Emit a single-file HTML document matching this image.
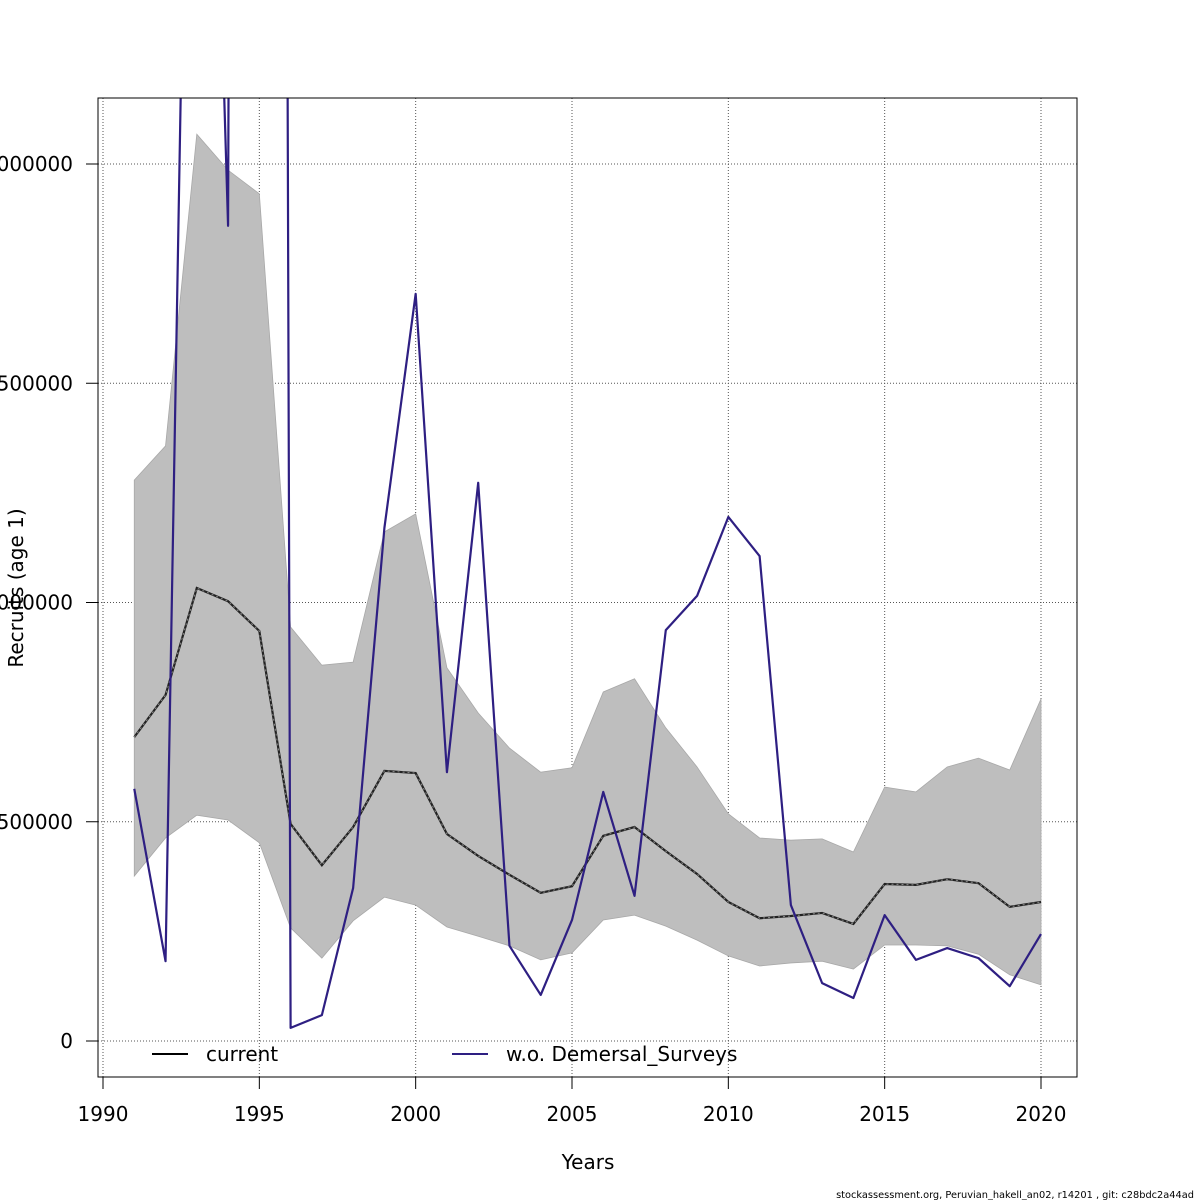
<!DOCTYPE html>
<html><head><meta charset="utf-8"><style>
html,body{margin:0;padding:0;background:#fff;}
svg{display:block;font-family:"DejaVu Sans","Liberation Sans",sans-serif;}
</style></head><body>
<svg id="chart" width="1200" height="1200" viewBox="0 0 1200 1200" xmlns="http://www.w3.org/2000/svg">
<defs><clipPath id="pc"><rect x="98" y="98" width="979" height="979"/></clipPath></defs>
<g id="grid"></g>
<g id="marks" clip-path="url(#pc)"></g>
<rect x="98" y="98" width="979" height="979" fill="none" stroke="#000" stroke-width="1"/>
<g id="axes"></g>
<text x="588" y="1169" font-size="20" text-anchor="middle">Years</text>
<text transform="translate(23,588) rotate(-90)" font-size="20" text-anchor="middle">Recruits (age 1)</text>
<g>
<line x1="152" y1="1054" x2="188" y2="1054" stroke="#000" stroke-width="2"/>
<text x="206" y="1061" font-size="20">current</text>
<line x1="452" y1="1054" x2="488" y2="1054" stroke="#2e1f82" stroke-width="2"/>
<text x="506" y="1061" font-size="20">w.o. Demersal_Surveys</text>
</g>
<text x="1194" y="1198" font-size="9.8" text-anchor="end">stockassessment.org, Peruvian_hakell_an02, r14201 , git: c28bdc2a44ad</text>
</svg>
<script>
const years=[1991,1992,1993,1994,1995,1996,1997,1998,1999,2000,2001,2002,2003,2004,2005,2006,2007,2008,2009,2010,2011,2012,2013,2014,2015,2016,2017,2018,2019,2020];
const current=[693000,789000,1033000,1003000,935000,495000,401000,488000,616000,611000,472000,422000,379000,338000,353000,468000,488000,433000,381000,317000,280000,285000,292000,267000,358000,356000,369000,360000,306000,317000];
const upper=[1279000,1357000,2068000,1986000,1932000,944000,857000,864000,1161000,1202000,851000,748000,668000,613000,623000,796000,826000,714000,625000,518000,463000,458000,461000,431000,579000,568000,625000,645000,618000,780000];
const lower=[376000,463000,515000,504000,452000,258000,189000,274000,328000,310000,260000,239000,217000,185000,201000,276000,287000,262000,230000,194000,171000,178000,182000,164000,219000,219000,217000,198000,151000,128000];
const woDemersal=[575000,182000,4250000,1859000,22500000,30000,59000,349000,1170000,1704000,613000,1273000,217000,105000,276000,568000,331000,937000,1015000,1195000,1106000,310000,132000,98000,287000,185000,212000,189000,125000,244000];
const xTicks=[1990,1995,2000,2005,2010,2015,2020];
const yTicks=[0,500000,1000000,1500000,2000000];
const yTickLabels=["0","500000","1000000","1500000","2000000"];

const NS="http://www.w3.org/2000/svg";
function X(v){return 103+(v-1990)*(1041-103)/30;}
function Y(v){return 1041-v*(1041-164)/2000000;}
function mk(t,a,p){const e=document.createElementNS(NS,t);for(const k in a)e.setAttribute(k,a[k]);p.appendChild(e);return e;}
const grid=document.getElementById('grid'),marks=document.getElementById('marks'),axes=document.getElementById('axes');

xTicks.forEach(t=>{
  const g=mk('line',{x1:X(t),x2:X(t),y1:98,y2:1077,stroke:'#555','stroke-width':1,'stroke-dasharray':'1,2'},grid);
  
  
  const tk=mk('line',{x1:X(t),x2:X(t),y1:1077,y2:1089,stroke:'#000','stroke-width':1},axes);
  
  
  const tx=mk('text',{x:X(t),y:1121,'font-size':20,'text-anchor':'middle'},axes);
  tx.textContent=t;
  
  
});
yTicks.forEach((t,i)=>{
  const g=mk('line',{x1:98,x2:1077,y1:Y(t),y2:Y(t),stroke:'#555','stroke-width':1,'stroke-dasharray':'1,2'},grid);
  
  
  const tk=mk('line',{x1:86,x2:98,y1:Y(t),y2:Y(t),stroke:'#000','stroke-width':1},axes);
  
  
  const tx=mk('text',{x:73,y:Y(t)+7,'font-size':20,'text-anchor':'end'},axes);
  tx.textContent=yTickLabels[i];
  
  
});

let d='';
years.forEach((y,i)=>{d+=(i?'L':'M')+X(y)+','+Y(upper[i]);});
for(let i=years.length-1;i>=0;i--)d+='L'+X(years[i])+','+Y(lower[i]);
const band=mk('path',{d:d+'Z',fill:'#bebebe',stroke:'#a8a8a8','stroke-width':0.8},marks);



const pc=years.map((y,i)=>X(y)+','+Y(current[i])).join(' ');
const cl=mk('polyline',{points:pc,fill:'none',stroke:'#222','stroke-width':2.2},marks);


const cl2=mk('polyline',{points:pc,fill:'none',stroke:'#888','stroke-width':1,'stroke-dasharray':'2,3'},marks);



const pw=years.map((y,i)=>X(y)+','+Y(woDemersal[i])).join(' ');
const wl=mk('polyline',{points:pw,fill:'none',stroke:'#2e1f82','stroke-width':2.2,'stroke-linejoin':'round'},marks);


</script>
</body></html>
